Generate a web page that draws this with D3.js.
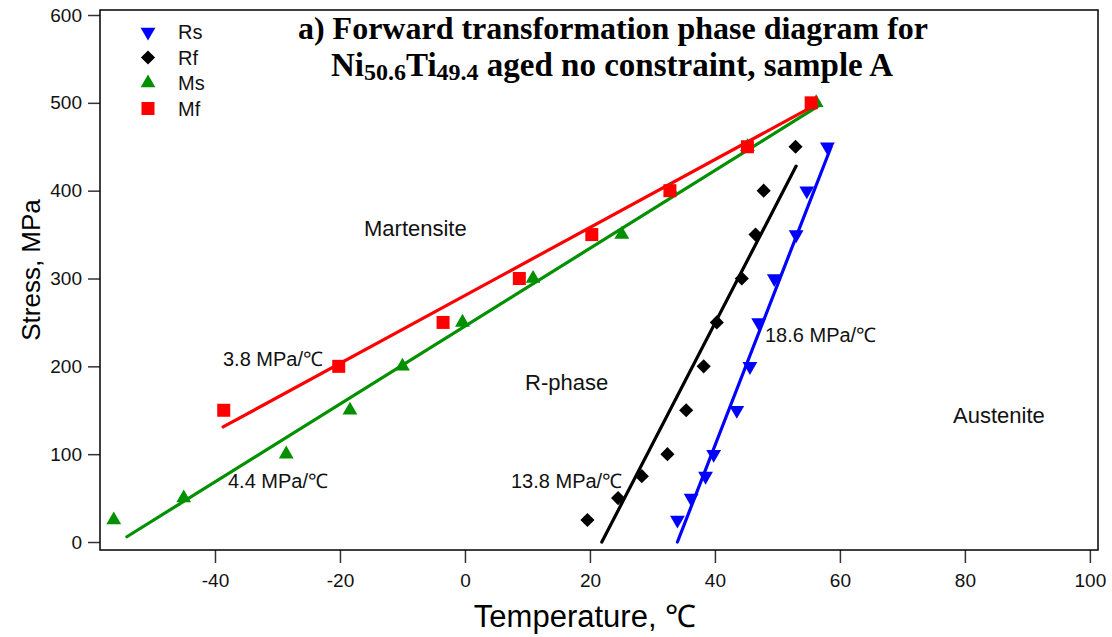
<!DOCTYPE html>
<html>
<head>
<meta charset="utf-8">
<script src="https://cdn.jsdelivr.net/npm/d3@7"></script>
<style>
  body { margin: 0; background: white; }
  svg text { font-family: "Liberation Sans", Arial, sans-serif; }
</style>
</head>
<body>
<div id="chart"></div>
<script>
// measured points, [temperature C, stress MPa]
var rsData = [[34, 25], [36.2, 50], [38.5, 75], [39.8, 100], [43.5, 150], [45.6, 200],
  [47, 250], [49.5, 300], [53, 350], [54.7, 400], [58, 450]];
var rfData = [[19.6, 25], [24.5, 50], [28.3, 75], [32.4, 100], [35.4, 150], [38.2, 200],
  [40.3, 250], [44.3, 300], [46.5, 350], [47.8, 400], [52.9, 450]];
var msData = [[-56.2, 25], [-45, 50], [-28.6, 100], [-18.4, 150], [-10, 200], [-0.4, 250],
  [10.9, 300], [25.1, 350], [33, 400], [45.2, 450], [56.2, 500]];
var mfData = [[-38.6, 150], [-20.2, 200], [-3.5, 250], [8.7, 300], [20.3, 350], [32.8, 400],
  [45.2, 450], [55.4, 500]];

// fitted lines (end points)
var rsFit = [[34, 0], [58.6, 450]];
var rfFit = [[21.9, 0], [53, 428]];
var msFit = [[-54.1, 6], [56.7, 497]];
var mfFit = [[-38.7, 131], [56.7, 500]];

var xTicks = [-40, -20, 0, 20, 40, 60, 80, 100];
var yTicks = [0, 100, 200, 300, 400, 500, 600];

var legendNames = ["Rs", "Rf", "Ms", "Mf"];
var colors = { Rs: "#0000ff", Rf: "#000000", Ms: "#009000", Mf: "#ff0000" };

var svg = d3.select("#chart")
  .append("svg")
  .attr("width", 1112)
  .attr("height", 637);

var x = d3.scaleLinear().domain([-58.4, 101.3]).range([100, 1098]);
var y = d3.scaleLinear().domain([-9.1, 605.7]).range([550, 10]);

var plain = function(d) { return String(d); };  // hyphen minus like the original

// axes
var xAxis = svg.append("g")
  .attr("transform", "translate(0,550)")
  .call(d3.axisBottom(x).tickValues(xTicks).tickFormat(plain).tickSize(13).tickPadding(11));
var yAxis = svg.append("g")
  .attr("transform", "translate(100,0)")
  .call(d3.axisLeft(y).tickValues(yTicks).tickFormat(plain).tickSize(12).tickPadding(6));

[xAxis, yAxis].forEach(function(g) {
  g.select(".domain").remove();
  g.selectAll(".tick line").attr("stroke", "#333").attr("stroke-width", 1.5);
  g.selectAll(".tick text")
    .attr("fill", "#111")
    .style("font-size", "19px")
    .style("font-family", "Liberation Sans, Arial, sans-serif");
});

// frame
svg.append("rect")
  .attr("x", 100).attr("y", 10)
  .attr("width", 998).attr("height", 540)
  .attr("fill", "none")
  .attr("stroke", "#000")
  .attr("stroke-width", 1.5);

// axis titles
svg.append("text")
  .attr("x", 585).attr("y", 627)
  .attr("text-anchor", "middle")
  .style("font-size", "31px")
  .text("Temperature, \u2103");

svg.append("text")
  .attr("transform", "translate(40,270) rotate(-90)")
  .attr("text-anchor", "middle")
  .style("font-size", "26px")
  .text("Stress, MPa");

// fit lines
var line = d3.line()
  .x(function(d) { return x(d[0]); })
  .y(function(d) { return y(d[1]); });

var fits = [
  { name: "Ms", pts: msFit },
  { name: "Mf", pts: mfFit },
  { name: "Rf", pts: rfFit },
  { name: "Rs", pts: rsFit }
];
fits.forEach(function(f) {
  svg.append("path")
    .attr("d", line(f.pts))
    .attr("stroke", colors[f.name])
    .attr("stroke-width", 3.2)
    .attr("stroke-linecap", "round")
    .attr("fill", "none");
});

// markers
var shapes = {
  Rs: { type: d3.symbolTriangle, size: 95, rot: 180 },
  Rf: { type: d3.symbolSquare, size: 100, rot: 45 },
  Ms: { type: d3.symbolTriangle, size: 95, rot: 0 },
  Mf: { type: d3.symbolSquare, size: 169, rot: 0 }
};

function drawMarkers(data, name) {
  var s = shapes[name];
  var sym = d3.symbol().type(s.type).size(s.size);
  svg.append("g").selectAll("path")
    .data(data)
    .enter()
    .append("path")
    .attr("d", sym)
    .attr("transform", function(d) {
      return "translate(" + x(d[0]) + "," + y(d[1]) + ") rotate(" + s.rot + ")";
    })
    .attr("fill", colors[name]);
}
drawMarkers(msData, "Ms");
drawMarkers(mfData, "Mf");
drawMarkers(rfData, "Rf");
drawMarkers(rsData, "Rs");

// legend
legendNames.forEach(function(name, i) {
  var s = shapes[name];
  var cy = 32 + i * 25.5;
  svg.append("path")
    .attr("d", d3.symbol().type(s.type).size(s.size))
    .attr("transform", "translate(148," + cy + ") rotate(" + s.rot + ")")
    .attr("fill", colors[name]);
  svg.append("text")
    .attr("x", 178).attr("y", cy + 7)
    .style("font-size", "20px")
    .attr("fill", "#111")
    .text(name);
});

// region and slope labels
var labels = [
  { t: "Martensite", x: 364, y: 236, s: 22 },
  { t: "R-phase", x: 525, y: 390, s: 22 },
  { t: "Austenite", x: 953, y: 423, s: 22 },
  { t: "3.8 MPa/\u2103", x: 223, y: 366, s: 20 },
  { t: "4.4 MPa/\u2103", x: 228, y: 488, s: 20 },
  { t: "13.8 MPa/\u2103", x: 511, y: 488, s: 20 },
  { t: "18.6 MPa/\u2103", x: 765, y: 342, s: 20 }
];
labels.forEach(function(l) {
  svg.append("text")
    .attr("x", l.x).attr("y", l.y)
    .style("font-size", l.s + "px")
    .attr("fill", "#111")
    .text(l.t);
});

// title
var serif = "Liberation Serif, Times New Roman, serif";
svg.append("text")
  .attr("x", 613).attr("y", 39)
  .attr("text-anchor", "middle")
  .style("font-family", serif)
  .style("font-weight", "bold")
  .style("font-size", "32px")
  .text("a) Forward transformation phase diagram for");

var t2 = svg.append("text")
  .attr("x", 612).attr("y", 76)
  .attr("text-anchor", "middle")
  .style("font-family", serif)
  .style("font-weight", "bold")
  .style("font-size", "33px");
t2.append("tspan").text("Ni");
t2.append("tspan").attr("dy", 4).style("font-size", "24px").text("50.6");
t2.append("tspan").attr("dy", -4).text("Ti");
t2.append("tspan").attr("dy", 4).style("font-size", "24px").text("49.4");
t2.append("tspan").attr("dy", -4).text(" aged no constraint, sample A");
</script>
</body>
</html>
